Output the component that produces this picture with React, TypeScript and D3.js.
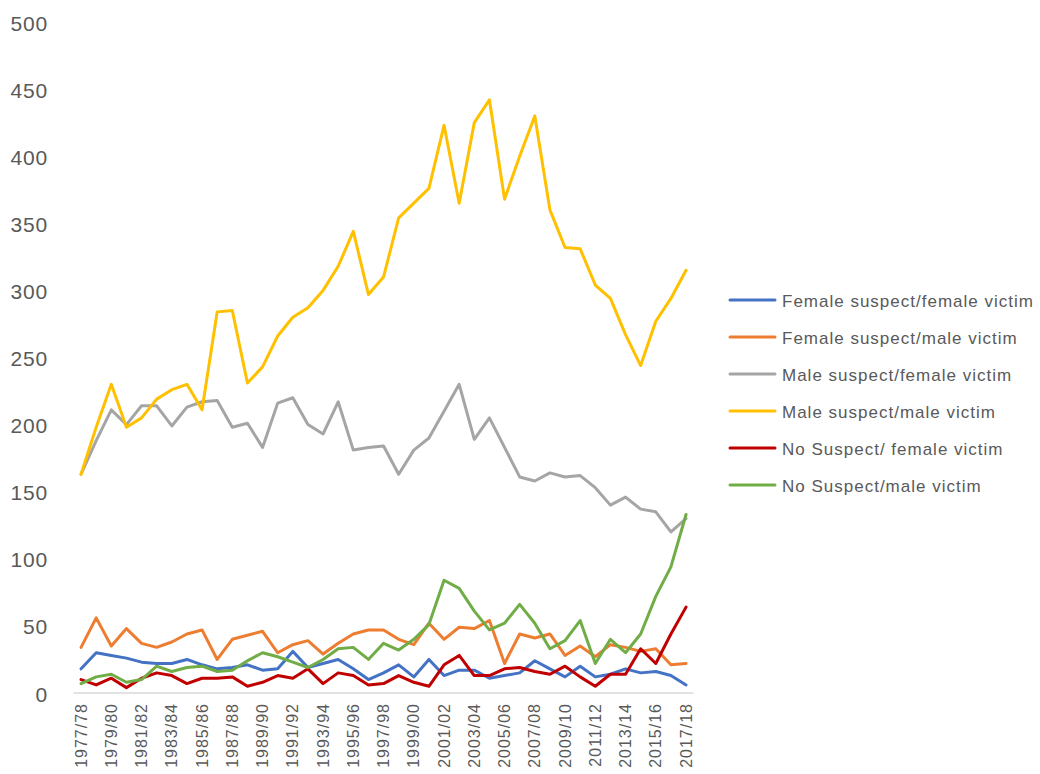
import React from "react";
import * as d3 from "d3";

const years: string[] = [
  "1977/78","1978/79","1979/80","1980/81","1981/82","1982/83","1983/84","1984/85","1985/86","1986/87",
  "1987/88","1988/89","1989/90","1990/91","1991/92","1992/93","1993/94","1994/95","1995/96","1996/97",
  "1997/98","1998/99","1999/00","2000/01","2001/02","2002/03","2003/04","2004/05","2005/06","2006/07",
  "2007/08","2008/09","2009/10","2010/11","2011/12","2012/13","2013/14","2014/15","2015/16","2016/17","2017/18",
];

const femaleSuspectFemaleVictim = [
  18, 30, 28, 26, 23, 22, 22, 25, 21, 18, 19, 21, 17, 18, 31, 19, 22, 25, 18, 10, 15,
  21, 12, 25, 13, 17, 17, 11, 13, 15, 24, 18, 12, 20, 12, 14, 18, 15, 16, 13, 6,
];
const femaleSuspectMaleVictim = [
  34, 56, 35, 48, 37, 34, 38, 44, 47, 25, 40, 43, 46, 30, 36, 39, 29, 37, 44, 47, 47,
  40, 36, 52, 40, 49, 48, 54, 22, 44, 41, 44, 28, 35, 27, 36, 34, 31, 33, 21, 22,
];
const maleSuspectFemaleVictim = [
  163, 188, 211, 200, 214, 214, 199, 213, 217, 218, 198, 201, 183, 216, 220, 200, 193, 217, 181, 183, 184,
  163, 181, 190, 210, 230, 189, 205, 183, 161, 158, 164, 161, 162, 153, 140, 146, 137, 135, 120, 130,
];
const maleSuspectMaleVictim = [
  163, 198, 230, 198, 205, 219, 226, 230, 211, 284, 285, 231, 243, 266, 280, 287, 300, 318, 344, 297, 310,
  354, 365, 376, 423, 365, 425, 442, 368, 400, 430, 360, 332, 331, 304, 294, 267, 244, 277, 294, 315,
];
const noSuspectFemaleVictim = [
  10, 6, 11, 4, 11, 15, 13, 7, 11, 11, 12, 5, 8, 13, 11, 18, 7, 15, 13, 6, 7,
  13, 8, 5, 21, 28, 13, 13, 18, 19, 16, 14, 20, 12, 5, 14, 14, 33, 22, 44, 64,
];
const noSuspectMaleVictim = [
  7, 12, 14, 8, 10, 20, 16, 19, 20, 16, 17, 24, 30, 27, 23, 19, 25, 33, 34, 25, 37,
  32, 40, 51, 84, 78, 61, 47, 52, 66, 52, 33, 39, 54, 22, 40, 30, 44, 72, 94, 133,
];

const seriesNames = [
  "Female suspect/female victim",
  "Female suspect/male victim",
  "Male suspect/female victim",
  "Male suspect/male victim",
  "No Suspect/ female victim",
  "No Suspect/male victim",
];
const seriesColors = ["#4472C4", "#ED7D31", "#A5A5A5", "#FFC000", "#C00000", "#70AD47"];
const seriesValues = [
  femaleSuspectFemaleVictim,
  femaleSuspectMaleVictim,
  maleSuspectFemaleVictim,
  maleSuspectMaleVictim,
  noSuspectFemaleVictim,
  noSuspectMaleVictim,
];
const yTicks = [0, 50, 100, 150, 200, 250, 300, 350, 400, 450, 500];

const W = 1040;
const H = 774;
const FONT = "'Liberation Sans', Arial, sans-serif";
const TEXT = "#595959";

export default function App() {
  const x = d3.scaleBand<string>().domain(years).range([73.5, 693.6]);
  const y = d3.scaleLinear().domain([0, 500]).range([693, 22]);
  const cx = (d: string) => (x(d) as number) + x.bandwidth() / 2;
  const line = d3
    .line<number>()
    .x((_, i) => cx(years[i]))
    .y((v) => y(v));

  return (
    <svg width={W} height={H} style={{ position: "absolute", left: 0, top: 0, background: "#fff" }}>
      <rect width={W} height={H} fill="#fff" />
      {yTicks.map((t) => (
        <text
          key={t}
          x={48}
          y={y(t) + 1}
          textAnchor="end"
          dominantBaseline="central"
          fontFamily={FONT}
          fontSize={21}
          letterSpacing={0.8}
          fill={TEXT}
        >
          {t}
        </text>
      ))}
      <line x1={73.5} x2={693.6} y1={y(0)} y2={y(0)} stroke="#D9D9D9" strokeWidth={1.5} />
      {years.map((yr, i) =>
        i % 2 === 0 ? (
          <text
            key={yr}
            transform={`translate(${cx(yr)},703) rotate(-90)`}
            textAnchor="end"
            dominantBaseline="central"
            fontFamily={FONT}
            fontSize={16}
            letterSpacing={1}
            fill={TEXT}
          >
            {yr}
          </text>
        ) : null
      )}
      {seriesValues.map((vals, s) => (
        <path
          key={s}
          d={line(vals) || ""}
          fill="none"
          stroke={seriesColors[s]}
          strokeWidth={3}
          strokeLinejoin="round"
          strokeLinecap="round"
        />
      ))}
      {seriesNames.map((n, s) => {
        const ly = 300 + s * 37;
        return (
          <g key={n}>
            <line x1={730} x2={775} y1={ly} y2={ly} stroke={seriesColors[s]} strokeWidth={3} strokeLinecap="round" />
            <text
              x={782}
              y={ly + 1}
              dominantBaseline="central"
              fontFamily={FONT}
              fontSize={17}
              letterSpacing={1}
              fill={TEXT}
            >
              {n}
            </text>
          </g>
        );
      })}
    </svg>
  );
}
